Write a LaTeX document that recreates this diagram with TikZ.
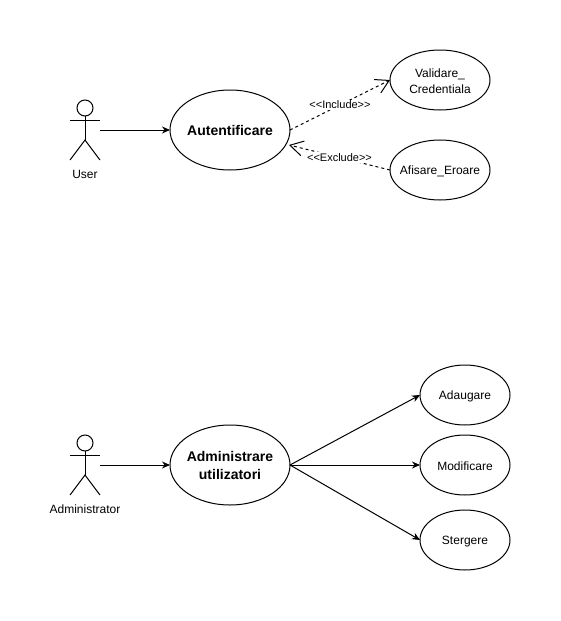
\documentclass[tikz,border=0pt]{standalone}
\usepackage{fontspec}
\setmainfont{Liberation Sans}
\usetikzlibrary{arrows.meta,calc,shapes.geometric}
\tikzset{
  x=1pt,y=-1pt,
  every node/.style={inner sep=0pt,outer sep=0pt},
  usecase/.style={draw,ellipse,line width=1pt,align=center,font=\fontsize{12}{16}\selectfont},
  mainuse/.style={usecase,minimum width=120pt,minimum height=80pt,font=\fontsize{14}{18}\selectfont\bfseries},
  subuse/.style={usecase,minimum width=90pt,minimum height=60pt},
  wideuse/.style={subuse,minimum width=100pt},
  actorbox/.style={rectangle,minimum width=30pt,minimum height=60pt},
  actorline/.style={line width=1pt},
  actorlabel/.style={font=\fontsize{12}{14}\selectfont},
  solidarrow/.style={line width=1pt,-{Stealth[length=8pt,width=7pt]}},
  dasharrow/.style={line width=1pt,dash pattern=on 3pt off 3pt,-{Straight Barb[length=13pt,width=15pt,line width=1pt]}},
  edgelabel/.style={fill=white,inner sep=1pt,font=\fontsize{11}{13}\selectfont},
}
\newcommand{\stickman}[1]{%
  \draw[actorline] ($(#1.north)+(0,8)$) circle[radius=8pt];
  \draw[actorline] ($(#1.north)+(0,16)$) -- ($(#1.north)+(0,40)$);
  \draw[actorline] ($(#1.north)+(-15,20)$) -- ($(#1.north)+(15,20)$);
  \draw[actorline] (#1.south west) -- ($(#1.north)+(0,40)$) -- (#1.south east);
}
\newcommand{\txtstrut}{\rule[-2pt]{0pt}{14pt}}
\newcommand{\fit}[1]{\makebox[0pt]{\txtstrut #1}}
\begin{document}
\begin{tikzpicture}
\useasboundingbox (0,0) rectangle (561,621);
\fill[white] (0,0) rectangle (561,621);

\node[actorbox] (user) at (85,130) {};
\stickman{user}
\node[actorlabel] (userlabel) at (85,173) {\txtstrut User};
\node[mainuse] (auth) at (230,130) {\fit{Autentificare}};
\node[wideuse] (valid) at (440,80) {\fit{Validare\_}\\\fit{Credentiala}};
\node[wideuse] (afis) at (440,170) {\fit{Afisare\_Eroare}};

\coordinate (authin) at (290,130);
\coordinate (authex) at (289,145);
\coordinate (afisex) at (390,170);
\draw[solidarrow] (user.east) -- (auth.west);
\draw[dasharrow] (authin) -- node[edgelabel,pos=.5] (inc) {<{}<Include>{}>} (valid.west);
\draw[dasharrow] (afisex) -- node[edgelabel,pos=.5] (exc) {<{}<Exclude>{}>} (authex);

\node[actorbox] (admin) at (85,465) {};
\stickman{admin}
\node[actorlabel] (adminlabel) at (85,508) {\txtstrut Administrator};
\node[mainuse] (adm) at (230,465) {\fit{Administrare}\\\fit{utilizatori}};
\node[subuse] (add) at (465,395) {\fit{Adaugare}};
\node[subuse] (mod) at (465,465) {\fit{Modificare}};
\node[subuse] (del) at (465,540) {\fit{Stergere}};

\draw[solidarrow] (admin.east) -- (adm.west);
\draw[solidarrow] (adm.east) -- (add.west);
\draw[solidarrow] (adm.east) -- (mod.west);
\draw[solidarrow] (adm.east) -- (del.west);
\end{tikzpicture}
\end{document}
